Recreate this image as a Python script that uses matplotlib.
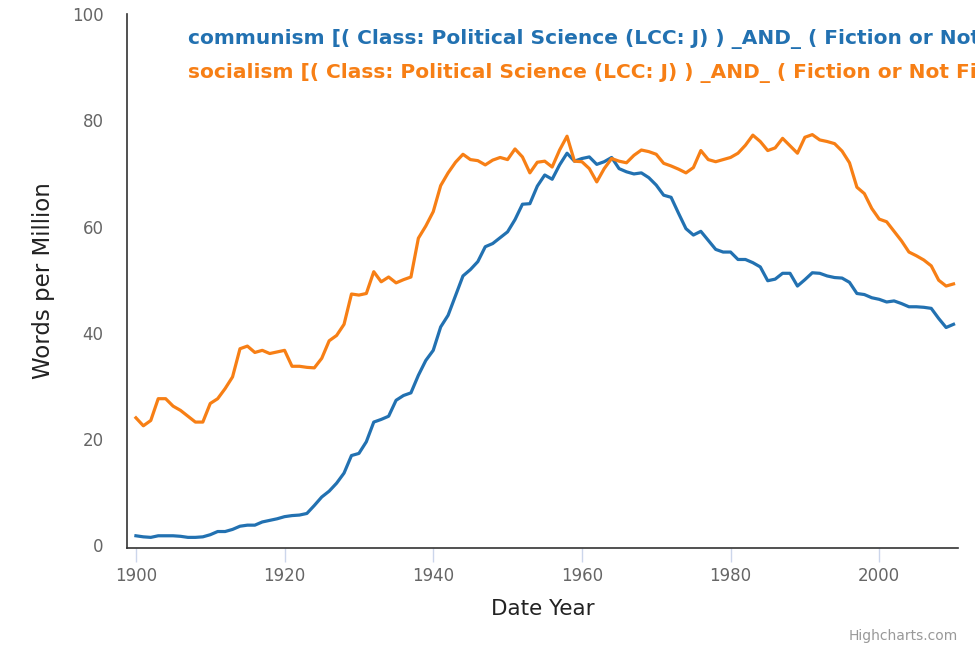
import matplotlib
matplotlib.use("Agg")
import matplotlib.pyplot as plt
import numpy as np

years = list(range(1900, 2011))

communism = [
    1.8, 1.6, 1.5, 1.8, 1.8, 1.8, 1.7, 1.5, 1.5, 1.6,
    2.0, 2.6, 2.6, 3.0, 3.6, 3.8, 3.8, 4.4, 4.7, 5.0,
    5.4, 5.6, 5.7, 6.0, 7.5, 9.1, 10.2, 11.7, 13.6, 16.9,
    17.3, 19.5, 23.2, 23.7, 24.3, 27.3, 28.2, 28.7, 32.0, 34.8,
    36.7, 41.1, 43.3, 47.0, 50.7, 51.9, 53.4, 56.2, 56.8, 57.9,
    59.0, 61.3, 64.2, 64.3, 67.6, 69.7, 68.9, 71.6, 73.8, 72.3,
    72.8, 73.1, 71.7, 72.2, 73.0, 70.9, 70.3, 69.9, 70.1, 69.2,
    67.8, 65.9, 65.5, 62.5, 59.6, 58.4, 59.1, 57.4, 55.7, 55.2,
    55.2, 53.8, 53.8, 53.2, 52.4, 49.8, 50.1, 51.2, 51.2, 48.8,
    50.0, 51.3, 51.2, 50.7, 50.4, 50.3, 49.5, 47.4, 47.2, 46.6,
    46.3, 45.8, 46.0, 45.5, 44.9, 44.9, 44.8, 44.6, 42.7, 41.0,
    41.6,
]

socialism = [
    24.0, 22.5, 23.5, 27.6, 27.6, 26.2, 25.4, 24.3, 23.2, 23.2,
    26.7, 27.6, 29.5, 31.7, 37.0, 37.5, 36.3, 36.7, 36.1, 36.4,
    36.7, 33.7, 33.7, 33.5, 33.4, 35.2, 38.5, 39.5, 41.6, 47.3,
    47.1, 47.4, 51.5, 49.6, 50.5, 49.4, 50.0, 50.5, 57.8, 60.1,
    62.8, 67.7, 70.1, 72.1, 73.6, 72.6, 72.4, 71.6, 72.5, 73.0,
    72.6, 74.6, 73.1, 70.1, 72.1, 72.3, 71.2, 74.4, 77.0, 72.3,
    72.2, 70.9, 68.4, 70.9, 72.8, 72.3, 72.0, 73.4, 74.4, 74.1,
    73.6, 71.9, 71.4, 70.8, 70.1, 71.1, 74.3, 72.6, 72.2, 72.6,
    73.0, 73.8, 75.3, 77.2, 76.0, 74.3, 74.8, 76.6, 75.2, 73.8,
    76.8, 77.3, 76.3, 76.0, 75.6, 74.2, 72.0, 67.4, 66.2, 63.4,
    61.4, 60.9, 59.1, 57.3, 55.2, 54.5, 53.7, 52.6, 49.9, 48.8,
    49.2,
]

series_names = [
    "communism [( Class: Political Science (LCC: J) ) _AND_ ( Fiction or Not Fiction: Not fiction ) ]",
    "socialism [( Class: Political Science (LCC: J) ) _AND_ ( Fiction or Not Fiction: Not fiction ) ]",
]
x_ticks = [1900, 1920, 1940, 1960, 1980, 2000]
y_ticks = [0, 20, 40, 60, 80, 100]

blue = "#2271b1"
orange = "#f77f15"

plt.rcParams['font.family'] = ['DejaVu Sans']

fig = plt.figure(figsize=(9.75, 6.5), dpi=100)
W, H = 975, 650
ax = fig.add_axes([127 / W, 1 - 548 / H, (958 - 127) / W, (548 - 14) / H])

ax.plot(years, communism, color=blue, lw=2.3, solid_joinstyle='round', zorder=3)
ax.plot(years, socialism, color=orange, lw=2.3, solid_joinstyle='round', zorder=3)

ax.set_xlim(1898.8, 2010.6)
ax.set_ylim(-0.5, 100)

for s in ['top', 'right']:
    ax.spines[s].set_visible(False)
ax.spines['left'].set_color('#333333')
ax.spines['left'].set_linewidth(1.2)
ax.spines['bottom'].set_color('#333333')
ax.spines['bottom'].set_linewidth(1.2)

ax.set_xticks(x_ticks)
ax.set_xticklabels([str(t) for t in x_ticks])
ax.set_yticks(y_ticks)
ax.set_yticklabels([str(t) for t in y_ticks])
ax.tick_params(axis='x', length=10, width=1, color='#ccd6eb', labelsize=12,
               labelcolor='#666666', pad=4)
ax.tick_params(axis='y', length=0, labelsize=12, labelcolor='#666666', pad=17)

ax.set_xlabel("Date Year", fontsize=15.5, color='#222222', labelpad=10)
ax.set_ylabel("Words per Million", fontsize=16.5, color='#222222', labelpad=12)

fig.text(188 / W, 1 - 39 / H, series_names[0], color=blue, fontsize=14.5,
         fontweight='bold', va='center', ha='left')
fig.text(188 / W, 1 - 73 / H, series_names[1], color=orange, fontsize=14.5,
         fontweight='bold', va='center', ha='left')

fig.text(958 / W, 1 - 636 / H, "Highcharts.com", color='#999999', fontsize=10,
         ha='right', va='center')

fig.savefig("out.png", dpi=100)
